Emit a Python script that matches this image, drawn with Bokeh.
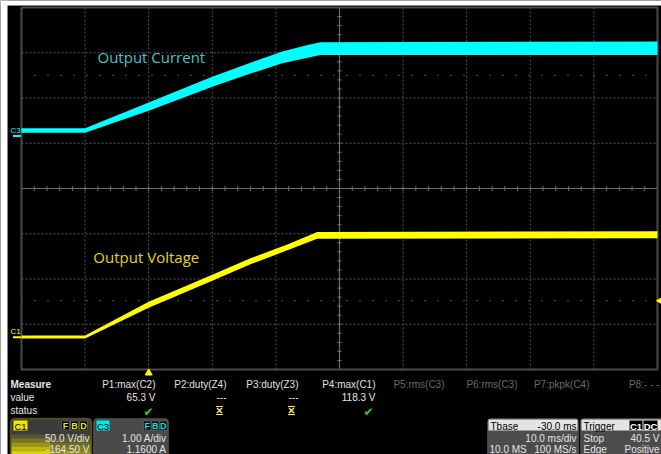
import numpy as np
from bokeh.plotting import figure
from bokeh.models import Range1d, BoxAnnotation
from bokeh.core.properties import value
from bokeh.embed import file_html
from bokeh.resources import INLINE

# C3 : output current (A), envelope of the noisy trace
t_cur = [-20, -10, 0, 10, 16, 21, 25, 27, 80]
cur_lo = [0.07, 0.07, 0.56, 1.09, 1.38, 1.61, 1.73, 1.79, 1.79]
cur_hi = [0.17, 0.17, 0.74, 1.31, 1.62, 1.87, 2.01, 2.07, 2.09]
# C1 : output voltage (V), envelope of the noisy trace
t_volt = [-20, -10, 0, 10, 16, 22, 26.5, 80]
volt_lo = [-1.2, -1.2, 32.7, 62.7, 80.7, 96.7, 109.0, 109.6]
volt_hi = [2.2, 2.2, 39.3, 69.3, 87.3, 103.3, 116.4, 117.4]

# scope settings
time_div = 10.0      # ms/div
t_left = -20.0       # ms at left edge (Tbase -30 ms)
c1_vdiv, c1_offset = 50.0, -164.5   # V/div, V
c3_adiv, c3_offset = 1.0, 1.16      # A/div, A
trig_level = 40.5                   # V on C1
c3_level = 1.34                     # A, dotted reference on C3

meas_names = ["P1:max(C2)", "P2:duty(Z4)", "P3:duty(Z3)", "P4:max(C1)",
              "P5:rms(C3)", "P6:rms(C3)", "P7:pkpk(C4)", "P8:- - -"]
meas_values = ["65.3 V", "---", "---", "118.3 V", "", "", "", ""]
meas_status = ["ok", "na", "na", "ok", "", "", "", ""]
meas_active = [True, True, True, True, False, False, False, False]

# ---------------- screen geometry (px) ----------------
W, H = 661, 454
SX0, SY0 = 7, 5                            # black screen starts here
GX0, GX1, GY0, GY1 = 21, 657, 7, 369       # graticule
NX, NY = 10, 8

px_ms = (GX1 - GX0) / (NX * time_div)
c1_center = -c1_offset
c3_center = -c3_offset
v_bot, v_top = c1_center - NY / 2 * c1_vdiv, c1_center + NY / 2 * c1_vdiv
a_bot, a_top = c3_center - NY / 2 * c3_adiv, c3_center + NY / 2 * c3_adiv
px_v = (GY1 - GY0) / (NY * c1_vdiv)
px_a = (GY1 - GY0) / (NY * c3_adiv)
t_right = t_left + NX * time_div

p = figure(width=W, height=H,
           x_range=Range1d(0, W), y_range=Range1d(H, 0),
           x_axis_type=None, y_axis_type=None,
           toolbar_location=None, output_backend="svg", min_border=0,
           background_fill_color="black", border_fill_color="white",
           outline_line_color=None)
p.extra_x_ranges = {"t": Range1d(t_left - GX0 / px_ms, t_right + (W - GX1) / px_ms)}
p.extra_y_ranges = {
    "v": Range1d(v_bot - (H - GY1) / px_v, v_top + GY0 / px_v),
    "a": Range1d(a_bot - (H - GY1) / px_a, a_top + GY0 / px_a),
}

# white frame around the scope screen
p.quad(left=[0, 0], right=[SX0, W], top=[0, 0], bottom=[H, SY0], fill_color="white",
       line_color=None)

GRID = "#575757"
# graticule dashed lines
t_ticks = [t_left + k * time_div for k in range(1, NX)]
t_mid = (t_left + t_right) / 2
t_dash = [t for t in t_ticks if abs(t - t_mid) > 1e-6]
p.segment(x0=t_dash, x1=t_dash, y0=v_bot, y1=v_top, line_color=GRID,
          line_dash="2 2", line_width=1, x_range_name="t", y_range_name="v")
v_ticks = [v_bot + k * c1_vdiv for k in range(1, NY)]
v_dash = [v for v in v_ticks if abs(v - c1_center) > 1e-6]
p.segment(x0=t_left, x1=t_right, y0=v_dash, y1=v_dash, line_color=GRID,
          line_dash="2 2", line_width=1, x_range_name="t", y_range_name="v")
# centre cross with minor ticks
p.segment(x0=[t_left, t_mid], x1=[t_right, t_mid], y0=[c1_center, v_bot],
          y1=[c1_center, v_top], line_color="#6e6e6e", line_width=1.2,
          x_range_name="t", y_range_name="v")
mt = np.arange(t_left, t_right + 1e-6, time_div / 5)
p.segment(x0=mt, x1=mt, y0=c1_center - 2.5 / px_v, y1=c1_center + 2.5 / px_v,
          line_color="#6e6e6e", line_width=1, x_range_name="t", y_range_name="v")
mv = np.arange(v_bot, v_top + 1e-6, c1_vdiv / 5)
p.segment(x0=t_mid - 2.2 / px_ms, x1=t_mid + 2.2 / px_ms, y0=mv, y1=mv,
          line_color="#6e6e6e", line_width=1, x_range_name="t", y_range_name="v")
# sparse dotted reference levels
p.segment(x0=t_left, x1=t_right, y0=trig_level, y1=trig_level, line_color="#7a7a7a",
          line_dash="1 12", line_width=1.2, x_range_name="t", y_range_name="v")
p.segment(x0=t_left, x1=t_right, y0=c3_level, y1=c3_level, line_color="#7a7a7a",
          line_dash="1 12", line_width=1.2, x_range_name="t", y_range_name="a")
# graticule border
p.quad(left=t_left, right=t_right, bottom=v_bot, top=v_top, fill_color=None,
       line_color="#4a4a4a", line_width=2, x_range_name="t", y_range_name="v")

# traces
CYAN, YEL = "#00ffff", "#ffff00"
p.varea(x=t_cur, y1=cur_lo, y2=cur_hi, fill_color=CYAN, x_range_name="t", y_range_name="a")
p.varea(x=t_volt, y1=volt_lo, y2=volt_hi, fill_color=YEL, x_range_name="t", y_range_name="v")

# trace annotations
p.text(x=[-8.05], y=[1.74], text=["Output Current"], text_font=value("Open Sans"),
       text_font_size="15px", text_color="#45c6c6", text_baseline="alphabetic",
       x_range_name="t", y_range_name="a")
p.text(x=[-8.7], y=[88.4], text=["Output Voltage"], text_font=value("Open Sans"),
       text_font_size="15px", text_color="#e2d61e", text_baseline="alphabetic",
       x_range_name="t", y_range_name="v")

# channel ground markers
p.segment(x0=12.5, x1=20.5, y0=0, y1=0, line_color=CYAN, line_width=2, y_range_name="a")
p.text(x=[10], y=[0], y_offset=-6, text=["C3"], text_font=value("Liberation Sans"),
       text_font_size="8px", text_color=CYAN, text_baseline="alphabetic", y_range_name="a")
p.segment(x0=12.5, x1=20.5, y0=0, y1=0, line_color=YEL, line_width=2, y_range_name="v")
p.text(x=[10], y=[0], y_offset=-6, text=["C1"], text_font=value("Liberation Sans"),
       text_font_size="8px", text_color=YEL, text_baseline="alphabetic", y_range_name="v")

# trigger markers
p.scatter(x=[0], y=[372.5], marker="triangle", size=7, fill_color=YEL,
          line_color=YEL, x_range_name="t")
p.scatter(x=[659.5], y=[trig_level], marker="triangle", angle=np.pi / 2, size=6,
          fill_color=YEL, line_color=YEL, y_range_name="v")


def txt(x, y, s, color="#e6e6e6", size="10px", align="left", style="normal",
        font="Liberation Sans"):
    p.text(x=[x], y=[y], text=[s], text_color=color, text_font=value(font),
           text_font_size=size, text_align=align, text_font_style=style,
           text_baseline="alphabetic")


# ---------------- measurement table ----------------
R0, R1, R2 = 384, 396.5, 409.5
txt(10, R0, "Measure", style="bold")
txt(10, R1, "value")
txt(10, R2, "status")
meas_right = [155, 226, 298, 375, 444, 517, 589, 659]
for i, name in enumerate(meas_names):
    col = "#e0e0e0" if meas_active[i] else "#6a6a6a"
    txt(meas_right[i], R0, name, color=col, align="right")
    if meas_values[i]:
        txt(meas_right[i], R1, meas_values[i], align="right")
    xc = meas_right[i] - 7
    if meas_status[i] == "ok":
        txt(xc, R2 + 1.5, "\u2714", color="#2ec82e", size="12px", align="center",
            font="DejaVu Sans")
    elif meas_status[i] == "na":
        p.scatter(x=[xc], y=[410], marker="x", size=7, line_color="#e8e060", line_width=1.6)
        p.scatter(x=[xc, xc], y=[406, 414], marker="dash", size=7,
                  line_color="#e8e060", line_width=1.2)

# ---------------- channel boxes ----------------
def box(l, r, t, b, fill, line, lw=1.2):
    p.add_layout(BoxAnnotation(left=l, right=r, top=t, bottom=b, fill_color=fill,
                               fill_alpha=1, line_color=line, line_width=lw,
                               border_radius=4, level="underlay"))


HDR, ROW2, ROW3 = 425.5, 438, 448.5
box(10, 91, 418, 460, "#3c3c3c", "#d8cf00", 1.5)
band_y = [434, 438, 442, 446, 450, 454]
band_a = [0.15, 0.35, 0.55, 0.75, 0.9]
for i in range(len(band_a)):
    p.quad(left=11, right=90, top=band_y[i], bottom=band_y[i + 1], fill_color="#e8e000",
           fill_alpha=band_a[i], line_color=None)
p.quad(left=50, right=90, top=434, bottom=454, fill_color="#3c3c3c", fill_alpha=0.45,
       line_color=None)
p.quad(left=13, right=27, top=420, bottom=430, fill_color="#f0e800", line_color=None)
txt(20, HDR, "C1", color="black", size="9.5px", align="center")
for (l, r), s in zip([(61, 69), (70, 78), (79, 87)], "FBD"):
    p.quad(left=l, right=r, top=420.5, bottom=429.5, fill_color="black", line_color="#555")
    txt((l + r) / 2, HDR, s, color="#f0e800", size="9px", align="center", style="bold")
txt(89, ROW2, "50.0 V/div", align="right")
txt(89, ROW3, "-164.50 V", align="right")

box(93, 168, 418, 460, "#4a4a4a", "#8a8a8a")
p.quad(left=96, right=109, top=420, bottom=430, fill_color="#00e8e8", line_color=None)
txt(102.5, HDR, "C3", color="black", size="9.5px", align="center")
for (l, r), s in zip([(143, 150.5), (151, 158.5), (159, 166.5)], "FBD"):
    p.quad(left=l, right=r, top=420.5, bottom=429.5, fill_color="black", line_color="#555")
    txt((l + r) / 2, HDR, s, color="#00e8e8", size="9px", align="center", style="bold")
txt(166, ROW2, "1.00 A/div", align="right")
txt(166, ROW3, "1.1600 A", align="right")

# timebase box
box(487, 578, 418, 460, "#4c4c4c", "#8a8a8a")
p.quad(left=488, right=577, top=419, bottom=430, fill_color="#e4e4e4", line_color=None)
txt(490, HDR, "Tbase", color="black")
txt(576, HDR, "-30.0 ms", color="black", align="right")
txt(576, ROW2, "10.0 ms/div", align="right")
txt(489, ROW3, "10.0 MS")
txt(576, ROW3, "100 MS/s", align="right")

# trigger box
box(580, 668, 418, 460, "#4c4c4c", "#8a8a8a")
p.quad(left=581, right=661, top=419, bottom=430, fill_color="#e4e4e4", line_color=None)
txt(583, HDR, "Trigger", color="black")
for (l, r), s in zip([(629, 642), (643, 657)], ["C1", "DC"]):
    p.quad(left=l, right=r, top=420, bottom=429.5, fill_color="black", line_color=None)
    txt((l + r) / 2, HDR, s, color="white", size="9.5px", align="center", style="bold")
txt(583, ROW2, "Stop")
txt(659, ROW2, "40.5 V", align="right")
txt(583, ROW3, "Edge")
txt(659, ROW3, "Positive", align="right")

open("out.html", "w").write(file_html(p, INLINE))
